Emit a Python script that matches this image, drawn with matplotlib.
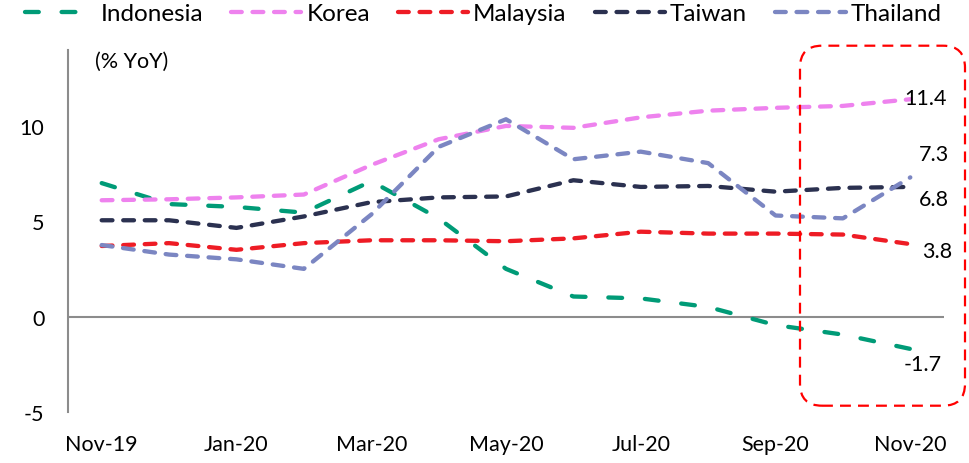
import matplotlib
matplotlib.use("Agg")
import matplotlib.pyplot as plt
from matplotlib.patches import FancyBboxPatch
from matplotlib.transforms import Affine2D

plt.rcParams["font.family"] = ["Lato", "DejaVu Sans"]
plt.rcParams["axes.unicode_minus"] = False

# Monthly export growth, % YoY
months = ["Nov-19", "Dec-19", "Jan-20", "Feb-20", "Mar-20", "Apr-20", "May-20",
          "Jun-20", "Jul-20", "Aug-20", "Sep-20", "Oct-20", "Nov-20"]
indonesia = [7.0, 5.9, 5.75, 5.45, 7.1, 5.15, 2.5, 1.05, 0.95, 0.5, -0.45, -0.95, -1.7]
korea = [6.1, 6.15, 6.25, 6.4, 7.95, 9.3, 10.0, 9.9, 10.45, 10.8, 10.95, 11.05, 11.4]
malaysia = [3.7, 3.85, 3.5, 3.85, 4.0, 4.0, 3.95, 4.1, 4.45, 4.35, 4.35, 4.3, 3.8]
taiwan = [5.05, 5.05, 4.65, 5.25, 6.0, 6.25, 6.3, 7.15, 6.8, 6.85, 6.55, 6.75, 6.8]
thailand = [3.75, 3.25, 3.0, 2.5, 5.35, 8.9, 10.35, 8.25, 8.65, 8.05, 5.3, 5.15, 7.3]

names = ["Indonesia", "Korea", "Malaysia", "Taiwan", "Thailand"]
values = [indonesia, korea, malaysia, taiwan, thailand]
colors = ["#009B77", "#EE82EE", "#EE1C25", "#2B3150", "#7B86C2"]
dash_patterns = [(3.2, 5.3), (2.5, 2.5), (2.5, 2.5), (2.5, 2.5), (2.5, 2.5)]
# end-label offsets in pixels (dx, dy)
label_offsets = [(-7, -15), (-6, 1), (12, -7), (9, -12), (9, 23)]

W, H = 970, 464
FS = 15.5
LEG_FS = 17.5
GRAY = "#8C8C8C"

fig = plt.figure(figsize=(W / 100, H / 100), dpi=100)
ax = fig.add_axes([68 / W, 51.2 / H, 876 / W, 362.1 / H])

x = list(range(len(months)))
lines = []
for name, vals, col, dsh in zip(names, values, colors, dash_patterns):
    ln, = ax.plot(x, vals, color=col, lw=3.1, dashes=dsh,
                  dash_capstyle="round", solid_capstyle="round", label=name)
    lines.append(ln)

for vals, (dx, dy) in zip(values, label_offsets):
    ax.annotate(f"{vals[-1]:.1f}", xy=(x[-1], vals[-1]), xytext=(dx, dy),
                textcoords="offset pixels", ha="left", va="center",
                fontsize=FS, color="black")

ax.set_xlim(-0.5, 12.5)
ax.set_ylim(-5, 14)
ax.set_yticks([-5, 0, 5, 10])
ax.set_xticks(x[::2])
ax.set_xticklabels(months[::2])
ax.tick_params(axis="both", length=0, labelsize=FS, colors="black")
ax.tick_params(axis="y", pad=17)
ax.tick_params(axis="x", pad=16)
for s in ["top", "right", "bottom"]:
    ax.spines[s].set_visible(False)
ax.spines["left"].set_color(GRAY)
ax.spines["left"].set_linewidth(1.5)
ax.axhline(0, color=GRAY, lw=1.5, zorder=1)

fig.text(95 / W, 1 - 62 / H, "(% YoY)", fontsize=FS, va="center", ha="left")

fig.legend(handles=lines, loc="upper left", bbox_to_anchor=(25 / W, 1 - 4 / H),
           ncol=5, frameon=False, fontsize=LEG_FS, handlelength=2.9,
           handletextpad=0.2, columnspacing=1.15, borderpad=0, borderaxespad=0)

# highlight box around the latest months
px = Affine2D().scale(1 / W, 1 / H) + fig.transFigure
box = FancyBboxPatch((800, H - 406.7), 165, 360,
                     boxstyle="round,pad=0,rounding_size=22",
                     fill=False, edgecolor="#FF0000", lw=1.6,
                     linestyle=(0, (4.9, 3.2)), transform=px, clip_on=False)
fig.patches.append(box)

fig.savefig("out.png", dpi=100)
